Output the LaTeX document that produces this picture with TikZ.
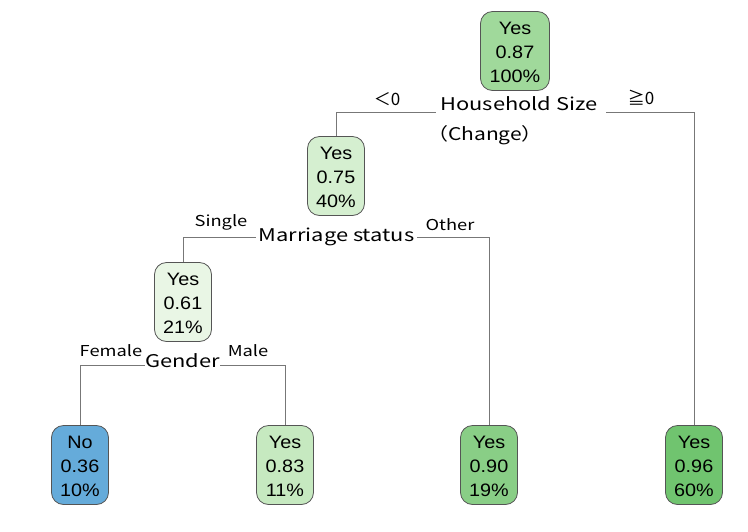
\documentclass[tikz,border=0pt]{standalone}
\usepackage{fontspec}
\usepackage{graphicx}
\setmainfont{Liberation Sans}
\newfontfamily\jpfont{Noto Sans CJK JP}
\definecolor{gA}{HTML}{A0D99B}
\definecolor{gB}{HTML}{D5EFD0}
\definecolor{gC}{HTML}{E9F6E5}
\definecolor{gD}{HTML}{C6E9C0}
\definecolor{gE}{HTML}{89CE86}
\definecolor{gF}{HTML}{70C46F}
\definecolor{bA}{HTML}{65ABDA}
\definecolor{edge}{HTML}{555555}
% three-line node content, slightly widened and set a little low
\newcommand{\nodetext}[3]{\raisebox{-3pt}[\height][\depth]{\scalebox{1.1}[1]{\begin{tabular}{@{}c@{}}#1\\#2\\#3\end{tabular}}}}
\newcommand{\wide}[2]{\scalebox{#1}[1]{#2}}
\begin{document}
\begin{tikzpicture}[x=1pt,y=-1pt,
  leaf/.style={draw=edge, line width=0.8pt, rounded corners=12pt, align=center,
    minimum width=57pt, minimum height=79pt, inner sep=0pt,
    font=\fontsize{18}{24}\selectfont},
  split/.style={font=\jpfont\fontsize{17.5}{20}\selectfont, inner sep=0pt},
  side/.style={font=\jpfont\fontsize{15}{18}\selectfont, inner sep=0pt},
  sign/.style={font=\jpfont\fontsize{17}{20}\selectfont, inner sep=0pt},
  link/.style={draw=edge!80, line width=0.8pt}]
\useasboundingbox (0,0) rectangle (748,531);

% tree nodes
\node[leaf, fill=gA, minimum width=69pt] (r) at (515,51) {\nodetext{Yes}{0.87}{100\%}};
\node[leaf, fill=gB] (n2) at (336,176) {\nodetext{Yes}{0.75}{40\%}};
\node[leaf, fill=gC] (n3) at (183,302) {\nodetext{Yes}{0.61}{21\%}};
\node[leaf, fill=bA] (l1) at (80,465) {\nodetext{No}{0.36}{10\%}};
\node[leaf, fill=gD] (l2) at (285,465) {\nodetext{Yes}{0.83}{11\%}};
\node[leaf, fill=gE] (l3) at (489,465) {\nodetext{Yes}{0.90}{19\%}};
\node[leaf, fill=gF] (l4) at (694,465) {\nodetext{Yes}{0.96}{60\%}};

% split labels
\node[split] (hs) at (519,104) {\wide{1.25}{Household Size}};
\node[split] (hc) at (485,135) {\wide{1.2}{（Change）}};
\node[split] (ms) at (336.5,237) {\wide{1.25}{Marriage status}};
\node[split] (gd) at (182.5,361) {\wide{1.25}{Gender}};

% branch labels
\node[sign] (lt) at (387,99) {＜0};
\node[sign] (ge) at (641,98) {≧0};
\node[side] (si) at (221,222) {\wide{1.22}{Single}};
\node[side] (ot) at (450,225) {\wide{1.22}{Other}};
\node[side] (fe) at (111,351) {\wide{1.22}{Female}};
\node[side] (ma) at (248,351) {\wide{1.22}{Male}};

% ends of the split lines
\coordinate (hsL) at (436,112);
\coordinate (hsR) at (606,112);
\coordinate (msL) at (256,237);
\coordinate (msR) at (417,237);
\coordinate (gdL) at (145,365);
\coordinate (gdR) at (220,365);

% connectors
\draw[link] (n2.north) |- (hsL);
\draw[link] (hsR) -| (l4.north);
\draw[link] (n3.north) |- (msL);
\draw[link] (msR) -| (l3.north);
\draw[link] (l1.north) |- (gdL);
\draw[link] (gdR) -| (l2.north);
\end{tikzpicture}
\end{document}
